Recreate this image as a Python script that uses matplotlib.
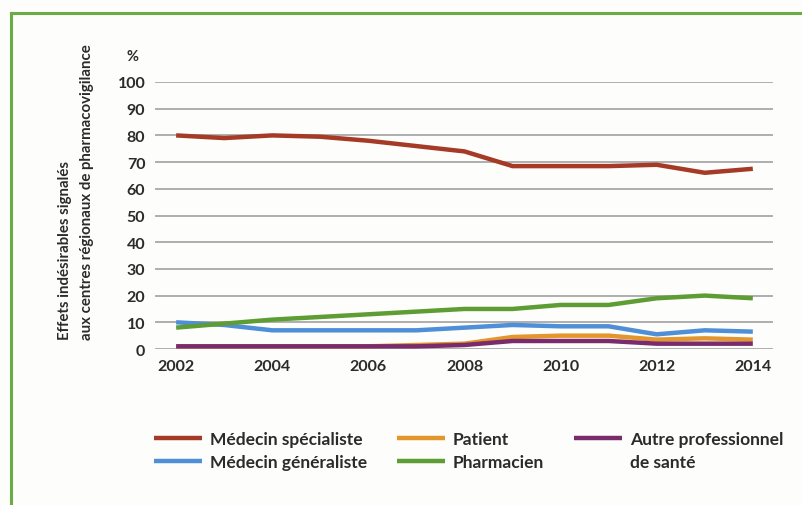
import matplotlib
matplotlib.use("Agg")
from matplotlib import pyplot as plt
from matplotlib.lines import Line2D

years = list(range(2002, 2015))
specialiste = [80, 79, 80, 79.5, 78, 76, 74, 68.5, 68.5, 68.5, 69, 66, 67.5]
generaliste = [10, 9, 7, 7, 7, 7, 8, 9, 8.5, 8.5, 5.5, 7, 6.5]
patient = [1, 1, 1, 1, 1, 1.5, 2, 4.5, 5, 5, 3.5, 4, 3.5]
pharmacien = [8, 9.5, 11, 12, 13, 14, 15, 15, 16.5, 16.5, 19, 20, 19]
autre = [1, 1, 1, 1, 1, 1, 1.5, 3, 3, 3, 2, 2, 2]
yticks = list(range(0, 101, 10))
xticks = list(range(2002, 2015, 2))

plt.rcParams['font.family'] = ['Lato', 'DejaVu Sans']

fig = plt.figure(figsize=(8.03, 5.06), dpi=100)
fig.patch.set_facecolor('#fdfdfb')
ax = fig.add_axes([155 / 803, 1 - 350 / 506, 618 / 803, 267 / 506])
ax.set_facecolor('none')

c_spec = '#a53a26'
c_gen = '#4f8fd8'
c_pat = '#e3962c'
c_pha = '#5d9d34'
c_aut = '#7a2b6c'
txt = '#2b2b2b'

lw = 3.2
l_spec, = ax.plot(years, specialiste, color=c_spec, lw=lw, solid_capstyle='butt', clip_on=False, zorder=3)
l_gen, = ax.plot(years, generaliste, color=c_gen, lw=lw, solid_capstyle='butt', clip_on=False, zorder=3)
l_pha, = ax.plot(years, pharmacien, color=c_pha, lw=lw, solid_capstyle='butt', clip_on=False, zorder=3)
l_pat, = ax.plot(years, patient, color=c_pat, lw=lw, solid_capstyle='butt', clip_on=False, zorder=3)
l_aut, = ax.plot(years, autre, color=c_aut, lw=lw, solid_capstyle='butt', clip_on=False, zorder=4)

ax.set_xlim(2001.56, 2014.42)
ax.set_ylim(0, 100)
ax.set_yticks(yticks)
ax.set_xticks(xticks)
ax.yaxis.grid(True, color='#a8a8a8', lw=1.3)
ax.set_axisbelow(True)
for s in ax.spines.values():
    s.set_visible(False)
ax.tick_params(length=0, labelsize=11.5, colors=txt)
ax.tick_params(axis='y', pad=7)
ax.tick_params(axis='x', pad=7)
for t in ax.get_xticklabels() + ax.get_yticklabels():
    t.set_fontweight('bold')

fig.text(133 / 803, 1 - 57 / 506, '%', ha='center', va='center', fontsize=10.5,
         color=txt, fontweight='bold')
fig.text(76 / 803, 1 - 340 / 506,
         'Effets indésirables signalés\naux centres régionaux de pharmacovigilance',
         rotation=90, ha='left', va='center', multialignment='left', rotation_mode='anchor',
         fontsize=10.8, color=txt, fontweight='bold', linespacing=1.7)

blank = Line2D([], [], color='none')
handles = [l_spec, l_gen, l_pat, l_pha, l_aut, blank]
labels = ['Médecin spécialiste', 'Médecin généraliste', 'Patient', 'Pharmacien',
          'Autre professionnel', 'de santé']
leg = fig.legend(handles, labels, ncol=3, loc='upper left',
                 bbox_to_anchor=(138 / 803, 1 - 416 / 506), frameon=False,
                 handlelength=2.8, handletextpad=0.45, columnspacing=1.7,
                 labelspacing=0.45, prop={'size': 12.5, 'weight': 'bold'})
for t in leg.get_texts():
    t.set_color(txt)

# green frame
fig.add_artist(Line2D([11 / 803, 11 / 803], [1 - 14 / 506, 0], color='#6aab45', lw=2.2))
fig.add_artist(Line2D([11 / 803, 1], [1 - 14 / 506, 1 - 14 / 506], color='#6aab45', lw=2.2))

fig.savefig('out.png', dpi=100, facecolor=fig.get_facecolor())
